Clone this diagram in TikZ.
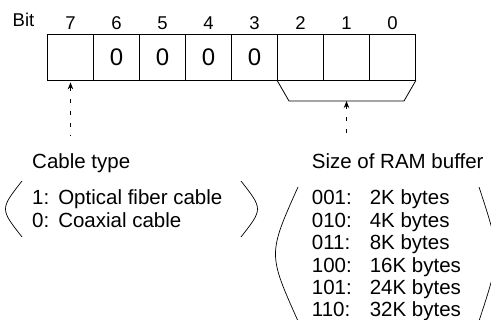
\documentclass[tikz,border=0pt]{standalone}
\usepackage{fontspec}
\setmainfont{Liberation Sans}
\usetikzlibrary{arrows.meta}

\begin{document}
\begin{tikzpicture}[x=1pt, y=-1pt, >={Stealth[length=7pt,width=5.5pt]},
  cell/.style={draw, line width=0.8pt, minimum width=46pt, minimum height=46pt, inner sep=0pt, font=\fontsize{24}{28}\selectfont},
  bitno/.style={inner sep=0pt, anchor=base, font=\fontsize{18.5}{22}\selectfont},
  txt/.style={inner sep=0pt, anchor=base west, font=\fontsize{20.5}{22.4}\selectfont},
  ptr/.style={<-, line width=0.8pt, dash pattern=on 4pt off 8pt, shorten <=2pt},
  paren/.style={line width=0.7pt}]
  \useasboundingbox (0,0) rectangle (491,320);
  % register
  \node[cell] (c7) at (70.5,57) {};
  \node[cell] (c6) at (116.5,57) {0};
  \node[cell] (c5) at (162.5,57) {0};
  \node[cell] (c4) at (208.5,57) {0};
  \node[cell] (c3) at (254.5,57) {0};
  \node[cell] (c2) at (300.5,57) {};
  \node[cell] (c1) at (346.5,57) {};
  \node[cell] (c0) at (392.5,57) {};
  % bit numbers
  \node[bitno] (bitlbl) at (23.5,27) {Bit};
  \node[bitno] (n7) at (70.5,29.3) {7};
  \node[bitno] (n6) at (116.5,29.3) {6};
  \node[bitno] (n5) at (162.5,29.3) {5};
  \node[bitno] (n4) at (208.5,29.3) {4};
  \node[bitno] (n3) at (254.5,29.3) {3};
  \node[bitno] (n2) at (300.5,29.3) {2};
  \node[bitno] (n1) at (346.5,29.3) {1};
  \node[bitno] (n0) at (392.5,29.3) {0};
  % bracket under bits 2-0
  \coordinate (brl) at (289,101);
  \coordinate (brr) at (404,101);
  \coordinate (brm) at (346.5,101);
  \draw[line width=0.8pt] (c2.south west) -- (brl) -- (brr) -- (c0.south east);
  % pointers
  \coordinate (p7) at (70.5,136);
  \coordinate (p0) at (346.5,136);
  \draw[ptr] (c7.south) -- (p7);
  \draw[ptr, shorten <=0pt] (brm) -- (p0);
  % cable type
  \node[txt] (cable) at (32,169) {Cable type};
  \node[txt] (cablelist) at (32,205) {\begin{tabular}[t]{@{}l@{\hspace{9pt}}l@{}}1: & Optical fiber cable\\ 0: & Coaxial cable\end{tabular}};
  \draw[paren] (22,181) .. controls (0,209) .. (22,237);
  \draw[paren] (241,181) .. controls (263,209) .. (241,237);
  % RAM buffer size
  \node[txt] (ram) at (311.7,169) {Size of RAM buffer};
  \node[txt] (ramlist) at (311.7,205) {\begin{tabular}[t]{@{}l@{\hspace{18pt}}l@{}}001: & 2K bytes\\ 010: & 4K bytes\\ 011: & 8K bytes\\ 100: & 16K bytes\\ 101: & 24K bytes\\ 110: & 32K bytes\end{tabular}};
  \draw[paren] (298,187) .. controls (268,254) .. (298,321);
  \draw[paren] (479,187) .. controls (501,254) .. (479,321);
\end{tikzpicture}
\end{document}
